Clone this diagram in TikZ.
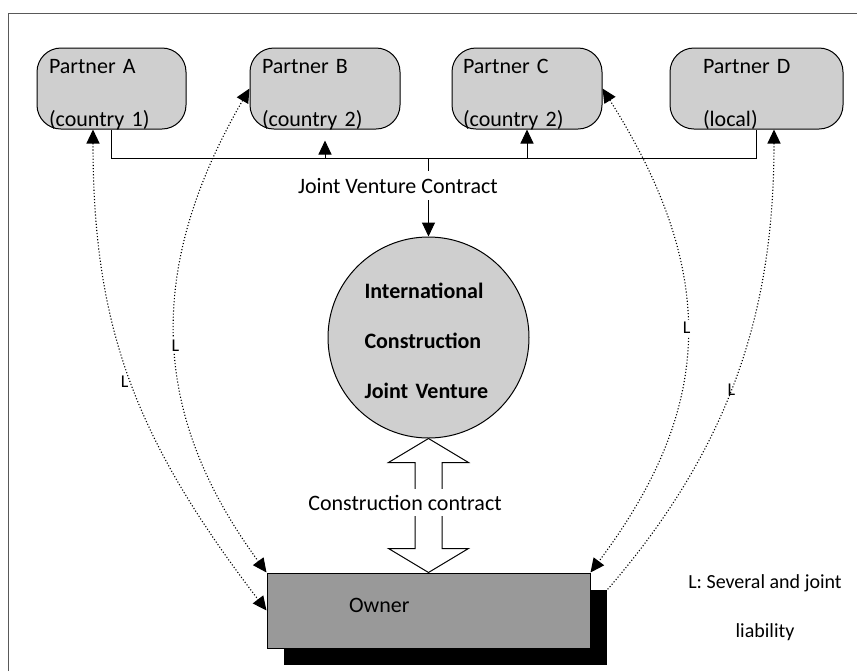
\documentclass[tikz,border=0pt]{standalone}
\usepackage{fontspec}
\setmainfont{Carlito}
\usetikzlibrary{arrows.meta,calc,shadows}

\begin{document}
\begin{tikzpicture}[x=.5pt,y=-.5pt,font=\fontsize{11}{13}\selectfont,line width=.5pt,
 >={Triangle[length=7pt,width=6.5pt]},
 partner/.style={draw,fill=black!19,rounded corners=12pt,minimum height=40.5pt,inner sep=0pt,align=left,text height=10pt,text depth=25.5pt},
 liab/.style={densely dotted,line width=.55pt},
 lbl/.style={font=\fontsize{9}{11}\selectfont,inner sep=1pt}]
 \useasboundingbox (0,0) rectangle (857,671);
 \draw[black!65] (8,671) -- (8,13) -- (857,13);
 % partners
 \node[partner,minimum width=74.5pt,text width=62.5pt] (pa) at (111.5,88.5) {Partner A\\[13.5pt](country 1)};
 \node[partner,minimum width=75pt,text width=63pt] (pb) at (325,88.5) {Partner B\\[13.5pt](country 2)};
 \node[partner,minimum width=75pt,text width=64pt] (pc) at (527,88.5) {Partner C\\[13.5pt](country 2)};
 \node[partner,minimum width=86.5pt,text width=53.5pt] (pd) at (756.5,88.5) {Partner D\\[13.5pt](local)};
 \node[circle,draw,fill=black!19,minimum size=100.5pt,inner sep=0pt,font=\fontsize{11}{13}\selectfont\bfseries,align=left,text width=64pt,text height=10pt,text depth=49.5pt] (jv) at (428.5,337.5) {International\\[12pt]Construction\\[12pt]Joint Venture};
 \node[draw,fill=black!40,minimum width=161.5pt,minimum height=37.5pt,inner sep=0pt,align=left,text width=79.5pt,text height=8pt,text depth=6.5pt,
   drop shadow={shadow xshift=8.5pt,shadow yshift=-8.5pt,fill=black,opacity=1}] (owner) at (428.5,610.5) {Owner};
 % joint venture contract
 \coordinate (hub) at (428.5,158);
 \draw (pa.south) -- (pa.south |- hub) -- (pd.south |- hub) -- (pd.south);
 \draw[->,shorten >=5.5pt] (pb.south |- hub) -- (pb.south);
 \draw[->] (pc.south |- hub) -- (pc.south);
 \node[anchor=base] (jvc) at (398,193) {Joint Venture Contract};
 \draw (hub) -- (hub |- jvc.north);
 \draw[->] (hub |- jvc.south) -- (jv.north);
 % construction contract
 \draw[fill=white] (jv.south) -- ++(40,24) -- ++(-26.5,0) -- ($(owner.north)+(13.5,-24)$) -- ++(26.5,0) -- (owner.north)
   -- ++(-40,-24) -- ++(26.5,0) -- ($(jv.south)+(-13.5,24)$) -- ++(-26.5,0) -- cycle;
 \node[fill=white,inner xsep=1pt,inner ysep=3pt,anchor=base] (cct) at (405,510) {Construction contract};
 % liability
 \draw[liab,<->] ([xshift=-9.25pt]pa.south) .. controls +(0,200) and +(-130,-170) .. (owner.west) node[lbl,pos=.5,anchor=east] (la) {L};
 \draw[liab,<->] (pb.west) .. controls +(-110,190) and +(-110,-150) .. (owner.north west) node[lbl,pos=.5,fill=white] (lb) {L};
 \draw[liab,<->] (pc.east) .. controls +(120,190) and +(120,-160) .. (owner.north east) node[lbl,pos=.47,fill=white] (lc) {L};
 \coordinate (shadow) at ([xshift=8.5pt,yshift=-8.5pt]owner.north east);
 \draw[liab,<-] ([xshift=8.75pt]pd.south) .. controls +(0,170) and +(130,-150) .. (shadow) node[lbl,pos=.55] (ld) {L};
 \node[font=\fontsize{10}{12}\selectfont] (key) at (765,583) {L: Several and joint};
 \node[font=\fontsize{10}{12}\selectfont] (key2) at (765,632) {liability};
\end{tikzpicture}
\end{document}
